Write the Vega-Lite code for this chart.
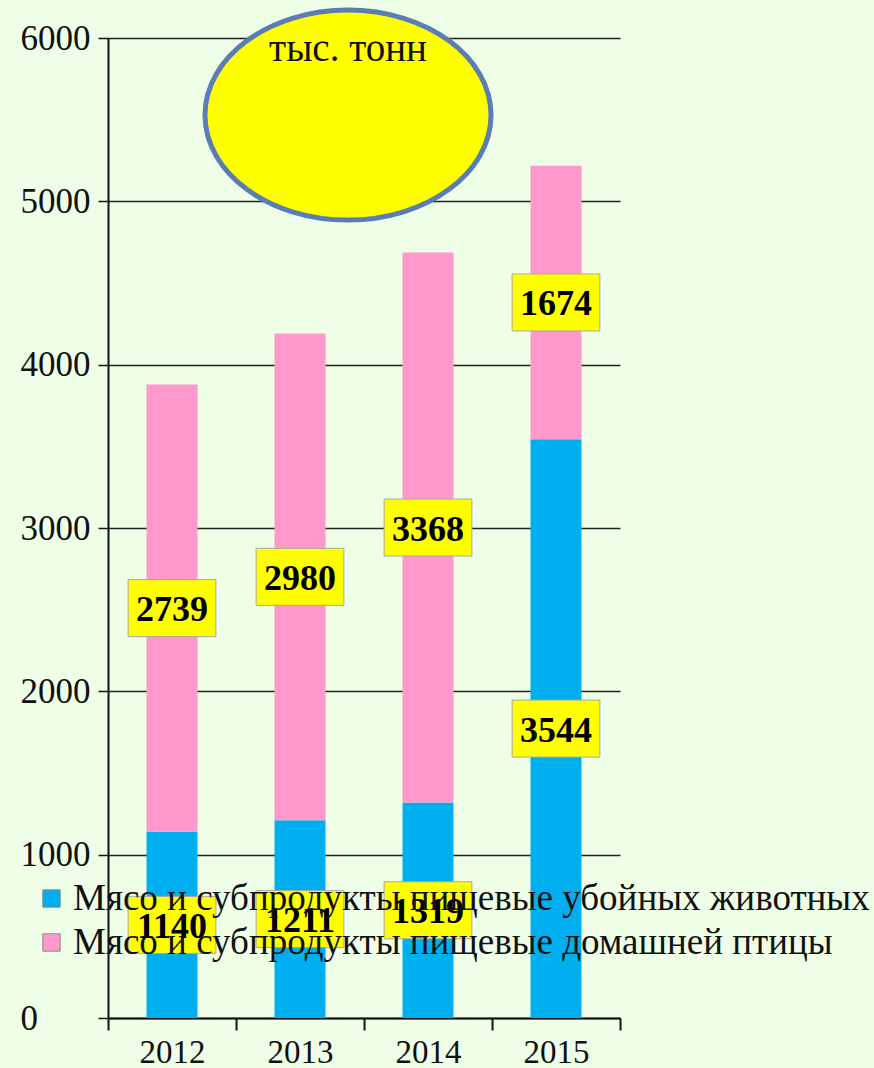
{
  "$schema": "https://vega.github.io/schema/vega-lite/v6.json",
  "autosize": "none",
  "width": 512,
  "height": 980,
  "padding": {"left": 108, "top": 38, "right": 254, "bottom": 50},
  "background": "#EFFEE6",
  "config": {
    "view": {"stroke": null},
    "font": "Liberation Serif"
  },
  "datasets": {
    "meat": [
      {"year": "2012", "series": "Мясо и субпродукты пищевые убойных животных", "order": 1, "value": 1140},
      {"year": "2013", "series": "Мясо и субпродукты пищевые убойных животных", "order": 1, "value": 1211},
      {"year": "2014", "series": "Мясо и субпродукты пищевые убойных животных", "order": 1, "value": 1319},
      {"year": "2015", "series": "Мясо и субпродукты пищевые убойных животных", "order": 1, "value": 3544},
      {"year": "2012", "series": "Мясо и субпродукты пищевые домашней птицы", "order": 2, "value": 2739},
      {"year": "2013", "series": "Мясо и субпродукты пищевые домашней птицы", "order": 2, "value": 2980},
      {"year": "2014", "series": "Мясо и субпродукты пищевые домашней птицы", "order": 2, "value": 3368},
      {"year": "2015", "series": "Мясо и субпродукты пищевые домашней птицы", "order": 2, "value": 1674}
    ],
    "note": [
      {"year": "2013", "y": 5528, "ty": 5935, "label": "тыс. тонн"}
    ]
  },
  "layer": [
    {
      "data": {"name": "meat"},
      "mark": {"type": "bar", "size": 51},
      "encoding": {
        "x": {
          "field": "year", "type": "ordinal",
          "scale": {"paddingInner": 0, "paddingOuter": 0},
          "axis": {
            "title": null, "labelAngle": 0, "tickBand": "extent",
            "domainColor": "#111", "domainWidth": 2,
            "tickColor": "#111", "tickWidth": 2, "tickSize": 12,
            "labelFont": "Liberation Serif", "labelFontSize": 33, "labelColor": "#111",
            "labelPadding": 6
          }
        },
        "y": {
          "field": "value", "type": "quantitative", "stack": "zero",
          "scale": {"domain": [0, 6000], "nice": false},
          "axis": {
            "title": null, "values": [0, 1000, 2000, 3000, 4000, 5000, 6000], "format": "d",
            "grid": true, "gridColor": "#222", "gridWidth": 1.5,
            "domainColor": "#111", "domainWidth": 2,
            "tickColor": "#111", "tickWidth": 1.5, "tickSize": 10,
            "labelAlign": "left", "labelPadding": 78, "labelBaseline": "middle",
            "labelFont": "Liberation Serif", "labelFontSize": 35, "labelColor": "#111"
          }
        },
        "color": {
          "field": "series", "type": "nominal",
          "scale": {
            "domain": ["Мясо и субпродукты пищевые убойных животных", "Мясо и субпродукты пищевые домашней птицы"],
            "range": ["#00AFEF", "#FF99CC"]
          },
          "legend": {
            "title": null, "orient": "none", "legendX": -75, "legendY": 842,
            "symbolType": "square", "symbolSize": 300,
            "symbolStrokeColor": "#888", "symbolStrokeWidth": 1,
            "labelFont": "Liberation Serif", "labelFontSize": 37, "labelColor": "#111",
            "labelLimit": 1000, "labelOffset": 3, "rowPadding": 6
          }
        },
        "order": {"field": "order", "type": "quantitative"}
      }
    },
    {
      "data": {"name": "meat"},
      "transform": [
        {"stack": "value", "groupby": ["year"], "sort": [{"field": "order"}], "as": ["v0", "v1"]},
        {"calculate": "(datum.v0 + datum.v1) / 2", "as": "mid"}
      ],
      "layer": [
        {
          "mark": {
            "type": "point", "filled": true, "opacity": 1,
            "shape": "M-1.54,-1H1.54V1H-1.54Z",
            "size": 3249, "fill": "#FFFF00", "stroke": "#A8A8A0", "strokeWidth": 1
          },
          "encoding": {
            "x": {"field": "year", "type": "ordinal"},
            "y": {"field": "mid", "type": "quantitative"}
          }
        },
        {
          "mark": {
            "type": "text", "font": "Liberation Serif", "fontSize": 36,
            "fontWeight": "bold", "color": "#000", "baseline": "middle", "dy": 2
          },
          "encoding": {
            "x": {"field": "year", "type": "ordinal"},
            "y": {"field": "mid", "type": "quantitative"},
            "text": {"field": "value", "type": "quantitative", "format": "d"}
          }
        }
      ]
    },
    {
      "data": {"name": "note"},
      "layer": [
        {
          "mark": {
            "type": "point", "filled": true, "opacity": 1, "xOffset": 48,
            "shape": "M-1.362,0A1.362,1,0,1,1,1.362,0A1.362,1,0,1,1,-1.362,0Z",
            "size": 44100, "fill": "#FFFF00", "stroke": "#5A7DB3", "strokeWidth": 5
          },
          "encoding": {
            "x": {"field": "year", "type": "ordinal"},
            "y": {"field": "y", "type": "quantitative"}
          }
        },
        {
          "mark": {
            "type": "text", "xOffset": 48, "font": "Liberation Serif", "fontSize": 39,
            "color": "#111", "baseline": "middle"
          },
          "encoding": {
            "x": {"field": "year", "type": "ordinal"},
            "y": {"field": "ty", "type": "quantitative"},
            "text": {"field": "label"}
          }
        }
      ]
    }
  ]
}
